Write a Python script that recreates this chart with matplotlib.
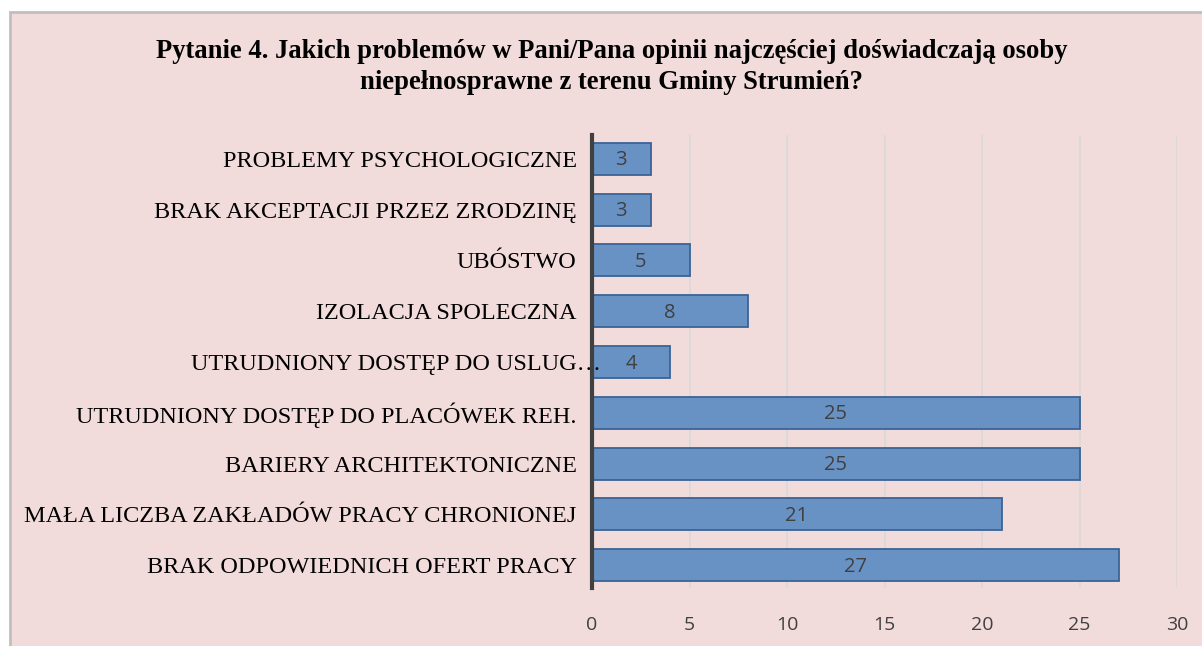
import matplotlib.pyplot as plt
from matplotlib.patches import Rectangle
from matplotlib.transforms import ScaledTranslation

categories = [
    "BRAK ODPOWIEDNICH OFERT PRACY",
    "MAŁA LICZBA ZAKŁADÓW PRACY CHRONIONEJ",
    "BARIERY ARCHITEKTONICZNE",
    "UTRUDNIONY DOSTĘP DO PLACÓWEK REH.",
    "UTRUDNIONY DOSTĘP DO USLUG…",
    "IZOLACJA SPOLECZNA",
    "UBÓSTWO",
    "BRAK AKCEPTACJI PRZEZ ZRODZINĘ",
    "PROBLEMY PSYCHOLOGICZNE",
]
values = [27, 21, 25, 25, 4, 8, 5, 3, 3]
xticks = [0, 5, 10, 15, 20, 25, 30]

bg = "#F2DCDB"
bar_color = "#6891C4"
edge_color = "#3B6396"
text_gray = "#404040"

fig = plt.figure(figsize=(12.02, 6.46), dpi=100, facecolor="white")
# chart area with grey border
fig.patches.append(Rectangle((10 / 1202, -0.1), 1.2, (646 - 12) / 646 + 0.1,
                             transform=fig.transFigure, facecolor=bg,
                             edgecolor="#BFBFBF", linewidth=2, zorder=-1))

ax = fig.add_axes([592 / 1202, 58 / 646, 585 / 1202, 453 / 646])
ax.set_facecolor(bg)
ax.patch.set_alpha(0)

ypos = range(len(categories))
bars = ax.barh(ypos, values, height=0.63, color=bar_color,
               edgecolor=edge_color, linewidth=1.3, zorder=3)
for y, v in zip(ypos, values):
    ax.text(v / 2, y - 0.03, str(v), ha="center", va="center", fontsize=14.5,
            color=text_gray, family="Open Sans", zorder=4)

ax.set_xlim(0, 30)
ax.set_ylim(-0.45, 8.47)
ax.set_xticks(xticks)
ax.set_xticklabels([str(t) for t in xticks], family="Open Sans",
                   fontsize=14, color=text_gray)
ax.set_yticks(list(ypos))
ax.set_yticklabels(categories, family="Liberation Serif", fontsize=17.5,
                   color="black")
ax.tick_params(axis="both", length=0)
ax.tick_params(axis="x", pad=20)
ax.tick_params(axis="y", pad=11)
# truncated label runs over the axis line as in the original
lbl = ax.get_yticklabels()[4]
lbl.set_transform(lbl.get_transform() + ScaledTranslation(0.24, 0, fig.dpi_scale_trans))
ax.xaxis.grid(True, color="#D9D9D9", linewidth=1.2, zorder=0)
ax.set_axisbelow(True)
ax.yaxis.set_zorder(4)
for s in ["top", "right", "bottom"]:
    ax.spines[s].set_visible(False)
ax.spines["left"].set_color(text_gray)
ax.spines["left"].set_linewidth(3)
ax.spines["left"].set_zorder(5)

fig.text(612 / 1202, 1 - 67 / 646,
         "Pytanie 4. Jakich problemów w Pani/Pana opinii najczęściej doświadczają osoby\n"
         "niepełnosprawne z terenu Gminy Strumień?",
         ha="center", va="center", fontsize=19.2, fontweight="bold",
         family="Liberation Serif", linespacing=1.35)

fig.savefig("out.png", dpi=100, facecolor="white")
